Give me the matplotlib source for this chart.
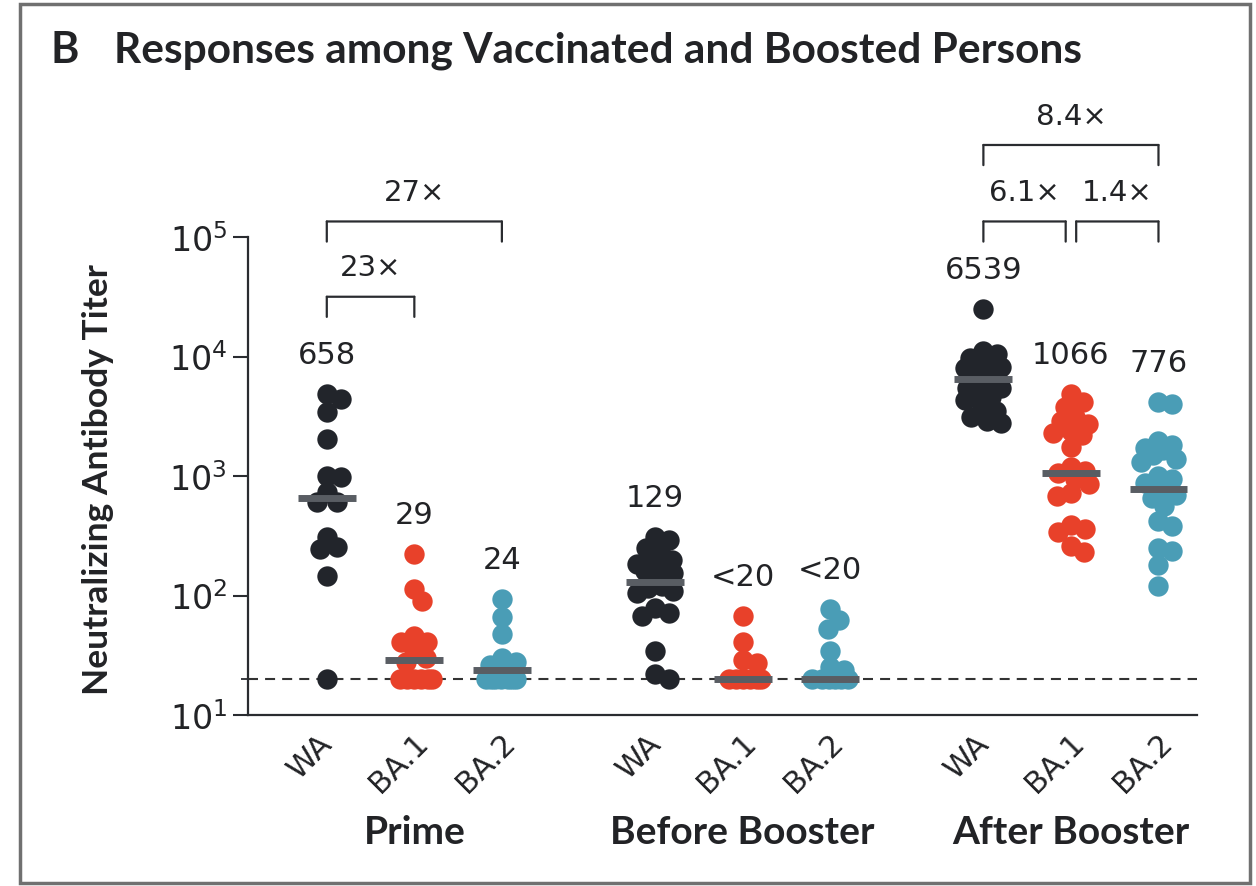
import numpy as np
import matplotlib
matplotlib.use('Agg')
import matplotlib.pyplot as plt
from matplotlib.patches import Rectangle
from matplotlib.transforms import blended_transform_factory, ScaledTranslation
from matplotlib.ticker import FixedLocator, FixedFormatter, NullFormatter

plt.rcParams['font.family'] = ['DejaVu Sans']
plt.rcParams['mathtext.fontset'] = 'dejavusans'
BOLD_FAMILY = ['Lato', 'DejaVu Sans']

# ---------------- data ----------------
title_letter = 'B'
title_text = 'Responses among Vaccinated and Boosted Persons'
y_label = 'Neutralizing Antibody Titer'
groups = ['Prime', 'Before Booster', 'After Booster']
variants = ['WA', 'BA.1', 'BA.2']
variant_colors = ['#22252b', '#e8412a', '#4a9db6']

prime_wa = [4850, 4400, 3440, 2040, 1000, 980, 735, 605, 605, 310, 255, 245, 146, 20]
prime_ba1 = [222, 113, 90, 46, 41, 41, 35, 30, 28, 20, 20, 20, 20, 20, 20]
prime_ba2 = [94, 66, 48, 30, 28, 26, 22, 20, 20, 20, 20, 20, 20, 20]

before_wa = [310, 290, 250, 235, 200, 190, 185, 165, 160, 155, 150, 120, 115, 110,
             105, 78, 72, 68, 34, 22, 20]
before_ba1 = [67, 41, 29, 27, 20, 20, 20, 20, 20, 20]
before_ba2 = [77, 62, 52, 34, 25, 24, 20, 20, 20, 20, 20, 20]

after_wa = [24900, 11100, 10500, 9800, 9500, 9000, 8200, 8000, 7600, 6900, 6600,
            6000, 5500, 5400, 5000, 4600, 4300, 3700, 3500, 3100, 2900, 2800]
after_ba1 = [4850, 4170, 3780, 3100, 2900, 2700, 2400, 2300, 2200, 1750, 1200,
             1100, 1050, 950, 850, 720, 680, 390, 360, 340, 260, 230]
after_ba2 = [4200, 4000, 1950, 1800, 1700, 1650, 1500, 1400, 1300, 1000, 950, 880,
             780, 700, 650, 560, 420, 380, 250, 235, 180, 120]

series = [prime_wa, prime_ba1, prime_ba2,
          before_wa, before_ba1, before_ba2,
          after_wa, after_ba1, after_ba2]

gmt_values = [658, 29, 24, 129, 20, 20, 6539, 1066, 776]
gmt_labels = ['658', '29', '24', '129', '<20', '<20', '6539', '1066', '776']
detection_limit = 20

fold_labels = ['23\u00d7', '27\u00d7', '6.1\u00d7', '1.4\u00d7', '8.4\u00d7']

y_ticks = [10, 100, 1000, 10000, 100000]
y_tick_labels = [r'$\mathregular{10^{1}}$', r'$\mathregular{10^{2}}$',
                 r'$\mathregular{10^{3}}$', r'$\mathregular{10^{4}}$',
                 r'$\mathregular{10^{5}}$']

# ---------------- figure ----------------
W, H = 1256, 887
dpi = 100
fig = plt.figure(figsize=(W / dpi, H / dpi), dpi=dpi)
fig.patch.set_facecolor('white')

ax_l, ax_r, ax_t, ax_b = 248, 1197, 238, 716
ax = fig.add_axes([ax_l / W, 1 - ax_b / H, (ax_r - ax_l) / W, (ax_b - ax_t) / H])

group_gap = 3.75
positions = [g * group_gap + v for g in range(3) for v in range(3)]
ax.set_xlim(-0.90, 9.94)
ax.set_yscale('log')
ax.set_ylim(10, 100000)

ink = '#2a2c30'
txt = '#222326'
for s in ['top', 'right']:
    ax.spines[s].set_visible(False)
for s in ['left', 'bottom']:
    ax.spines[s].set_color(ink)
    ax.spines[s].set_linewidth(1.6)

ax.yaxis.set_major_locator(FixedLocator(y_ticks))
ax.yaxis.set_major_formatter(FixedFormatter(y_tick_labels))
ax.yaxis.set_minor_locator(FixedLocator([detection_limit]))
ax.yaxis.set_minor_formatter(NullFormatter())
ax.tick_params(axis='y', which='major', length=11, width=1.5, color=ink,
               labelsize=24, pad=4, labelcolor=txt)
ax.tick_params(axis='y', which='minor', length=5, width=1.3, color=ink)

ax.set_xticks(positions)
ax.set_xticklabels([variants[i % 3] for i in range(9)], rotation=45,
                   ha='center', va='top', fontsize=22, color=txt)
ax.tick_params(axis='x', length=0, pad=9)
shift = ScaledTranslation(-16 / dpi, 0, fig.dpi_scale_trans)
for lab in ax.get_xticklabels():
    lab.set_transform(lab.get_transform() + shift)

# detection-limit line
ax.axhline(detection_limit, color='#333333', lw=1.5, dashes=(4.8, 3.4), zorder=1)

# swarm layout in pixel space
fig.canvas.draw()
px_per_unit = ax.transData.transform((1, 10))[0] - ax.transData.transform((0, 10))[0]
dmin = 14.0
maxw = 18.0


def swarm_offsets(vals, xc):
    pts = ax.transData.transform(np.column_stack([np.full(len(vals), xc), vals]))
    ys = pts[:, 1]
    order = np.argsort(-np.asarray(vals), kind='stable')
    placed = []
    offs = np.zeros(len(vals))
    cands = [0.0]
    for k in range(1, int(maxw) + 1):
        cands += [float(k), -float(k)]
    for i in order:
        chosen = None
        best_score, best_c = -1, 0.0
        for c in cands:
            if placed:
                d = min(np.hypot(c - px, ys[i] - py) for px, py in placed)
            else:
                d = 1e9
            if d >= dmin:
                chosen = c
                break
            if d > best_score:
                best_score, best_c = d, c
        if chosen is None:
            chosen = best_c
        offs[i] = chosen
        placed.append((chosen, ys[i]))
    return offs / px_per_unit


for i, vals in enumerate(series):
    xc = positions[i]
    dx = swarm_offsets(vals, xc)
    ax.scatter(xc + dx, vals, s=215, color=variant_colors[i % 3], linewidths=0,
               zorder=3, clip_on=False)
    ax.plot([xc - 0.33, xc + 0.33], [gmt_values[i], gmt_values[i]],
            color='#595d63', lw=5, solid_capstyle='butt', zorder=4)
    ax.annotate(gmt_labels[i], xy=(xc, max(vals)), xytext=(0, 18),
                textcoords='offset points', ha='center', va='bottom',
                fontsize=22, color=txt, annotation_clip=False)

# fold-change brackets
leg = 14.5  # points
def bracket(x0, x1, level, label):
    ax.annotate('', xy=(x0, level), xytext=(x1, level),
                arrowprops=dict(arrowstyle='-', color=ink, lw=1.6,
                                shrinkA=0, shrinkB=0), annotation_clip=False)
    for xx in (x0, x1):
        ax.annotate('', xy=(xx, level), xytext=(0, -leg), textcoords='offset points',
                    arrowprops=dict(arrowstyle='-', color=ink, lw=1.6,
                                    shrinkA=0, shrinkB=0), annotation_clip=False)
    ax.annotate(label, xy=((x0 + x1) / 2, level), xytext=(0, 11),
                textcoords='offset points', ha='center', va='bottom',
                fontsize=21, color=txt, annotation_clip=False)

gap = 0.06
bracket(positions[0], positions[1], 10 ** 4.50, fold_labels[0])
bracket(positions[0], positions[2], 10 ** 5.13, fold_labels[1])
bracket(positions[6], positions[7] - gap, 10 ** 5.13, fold_labels[2])
bracket(positions[7] + gap, positions[8], 10 ** 5.13, fold_labels[3])
bracket(positions[6], positions[8], 10 ** 5.77, fold_labels[4])

# group labels
trans = blended_transform_factory(ax.transData, fig.transFigure)
for g, name in enumerate(groups):
    ax.text(positions[g * 3 + 1], 1 - 833 / H, name, transform=trans,
            ha='center', va='center', fontsize=28, fontweight='bold',
            family=BOLD_FAMILY, color=txt)

# y label
fig.text(98 / W, 1 - 480 / H, y_label, rotation=90, ha='center', va='center',
         fontsize=25.5, fontweight='bold', family=BOLD_FAMILY, color=txt)

# title
fig.text(50 / W, 1 - 63 / H, title_letter, ha='left', va='baseline',
         fontsize=31, fontweight='bold', family=BOLD_FAMILY, color=txt)
fig.text(114 / W, 1 - 63 / H, title_text, ha='left', va='baseline',
         fontsize=30.5, fontweight='bold', family=BOLD_FAMILY, color=txt)

# frame
fig.patches.append(Rectangle((20 / W, 1 - 884 / H), (1250 - 20) / W, (884 - 5) / H,
                             transform=fig.transFigure, fill=False,
                             ec='#707070', lw=2.5))

fig.savefig('out.png', dpi=dpi)
